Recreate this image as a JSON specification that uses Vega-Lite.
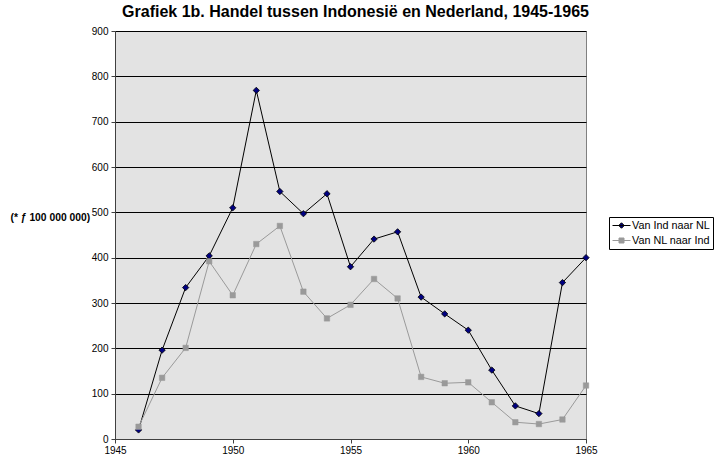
{
  "$schema": "https://vega.github.io/schema/vega-lite/v6.json",
  "autosize": "none",
  "width": 471,
  "height": 408,
  "padding": {"left": 115, "top": 31, "right": 129, "bottom": 19},
  "background": "white",
  "config": {
    "font": "Liberation Sans",
    "view": {"fill": "#e3e3e3", "stroke": "#808080", "strokeWidth": 1}
  },
  "title": {
    "text": "Grafiek 1b. Handel tussen Indonesië en Nederland, 1945-1965",
    "fontSize": 16,
    "fontWeight": "bold",
    "font": "Liberation Sans",
    "color": "black",
    "anchor": "middle",
    "dx": 5,
    "offset": 6
  },
  "data": {
    "values": [
      {"jaar": 1946, "serie": "Van Ind naar NL", "waarde": 20},
      {"jaar": 1947, "serie": "Van Ind naar NL", "waarde": 196},
      {"jaar": 1948, "serie": "Van Ind naar NL", "waarde": 334},
      {"jaar": 1949, "serie": "Van Ind naar NL", "waarde": 404},
      {"jaar": 1950, "serie": "Van Ind naar NL", "waarde": 510},
      {"jaar": 1951, "serie": "Van Ind naar NL", "waarde": 769},
      {"jaar": 1952, "serie": "Van Ind naar NL", "waarde": 546},
      {"jaar": 1953, "serie": "Van Ind naar NL", "waarde": 497},
      {"jaar": 1954, "serie": "Van Ind naar NL", "waarde": 541},
      {"jaar": 1955, "serie": "Van Ind naar NL", "waarde": 380},
      {"jaar": 1956, "serie": "Van Ind naar NL", "waarde": 441},
      {"jaar": 1957, "serie": "Van Ind naar NL", "waarde": 457},
      {"jaar": 1958, "serie": "Van Ind naar NL", "waarde": 313},
      {"jaar": 1959, "serie": "Van Ind naar NL", "waarde": 276},
      {"jaar": 1960, "serie": "Van Ind naar NL", "waarde": 240},
      {"jaar": 1961, "serie": "Van Ind naar NL", "waarde": 152},
      {"jaar": 1962, "serie": "Van Ind naar NL", "waarde": 73},
      {"jaar": 1963, "serie": "Van Ind naar NL", "waarde": 56},
      {"jaar": 1964, "serie": "Van Ind naar NL", "waarde": 345},
      {"jaar": 1965, "serie": "Van Ind naar NL", "waarde": 400},
      {"jaar": 1946, "serie": "Van NL naar Ind", "waarde": 27},
      {"jaar": 1947, "serie": "Van NL naar Ind", "waarde": 135},
      {"jaar": 1948, "serie": "Van NL naar Ind", "waarde": 201},
      {"jaar": 1949, "serie": "Van NL naar Ind", "waarde": 392},
      {"jaar": 1950, "serie": "Van NL naar Ind", "waarde": 317},
      {"jaar": 1951, "serie": "Van NL naar Ind", "waarde": 430},
      {"jaar": 1952, "serie": "Van NL naar Ind", "waarde": 470},
      {"jaar": 1953, "serie": "Van NL naar Ind", "waarde": 325},
      {"jaar": 1954, "serie": "Van NL naar Ind", "waarde": 266},
      {"jaar": 1955, "serie": "Van NL naar Ind", "waarde": 296},
      {"jaar": 1956, "serie": "Van NL naar Ind", "waarde": 353},
      {"jaar": 1957, "serie": "Van NL naar Ind", "waarde": 310},
      {"jaar": 1958, "serie": "Van NL naar Ind", "waarde": 137},
      {"jaar": 1959, "serie": "Van NL naar Ind", "waarde": 123},
      {"jaar": 1960, "serie": "Van NL naar Ind", "waarde": 125},
      {"jaar": 1961, "serie": "Van NL naar Ind", "waarde": 81},
      {"jaar": 1962, "serie": "Van NL naar Ind", "waarde": 37},
      {"jaar": 1963, "serie": "Van NL naar Ind", "waarde": 33},
      {"jaar": 1964, "serie": "Van NL naar Ind", "waarde": 43},
      {"jaar": 1965, "serie": "Van NL naar Ind", "waarde": 118}
    ]
  },
  "encoding": {
    "x": {
      "field": "jaar",
      "type": "quantitative",
      "scale": {"domain": [1945, 1965], "nice": false, "zero": false},
      "axis": {
        "title": null,
        "values": [1945, 1950, 1955, 1960, 1965],
        "format": "d",
        "grid": false,
        "domainColor": "#404040",
        "tickColor": "#404040",
        "tickSize": 4,
        "labelFontSize": 10,
        "labelColor": "black",
        "labelPadding": 2,
        "labelFlush": false
      }
    },
    "y": {
      "field": "waarde",
      "type": "quantitative",
      "scale": {"domain": [0, 900], "nice": false},
      "axis": {
        "title": "(* ƒ 100 000 000)",
        "titleAngle": 0,
        "titleX": -105,
        "titleY": 186,
        "titleAlign": "left",
        "titleBaseline": "middle",
        "titleFontSize": 10.3,
        "titleFontWeight": "bold",
        "titleColor": "black",
        "values": [0, 100, 200, 300, 400, 500, 600, 700, 800, 900],
        "grid": true,
        "gridColor": "black",
        "gridWidth": 1,
        "gridOpacity": 1,
        "domainColor": "#404040",
        "tickColor": "#404040",
        "tickSize": 4,
        "labelFontSize": 10,
        "labelColor": "black",
        "labelPadding": 3
      }
    }
  },
  "layer": [
    {
      "mark": {"type": "line", "strokeWidth": 1},
      "encoding": {
        "stroke": {
          "field": "serie",
          "type": "nominal",
          "scale": {"domain": ["Van Ind naar NL", "Van NL naar Ind"], "range": ["black", "#9a9a9a"]},
          "legend": {
            "title": null,
            "orient": "none",
            "legendX": 494,
            "legendY": 186,
            "symbolType": "M-1.8,0H1.8M0,-0.55L0.55,0L0,0.55L-0.55,0Z",
            "symbolSize": 100,
            "symbolStrokeWidth": 1,
            "symbolOffset": 4,
            "labelFontSize": 10.8,
            "labelColor": "black",
            "labelOffset": 5,
            "rowPadding": 3,
            "padding": 3,
            "strokeColor": "black",
            "fillColor": "white",
            "encode": {
              "symbols": {
                "update": {
                  "shape": {"signal": "datum.value === 'Van Ind naar NL' ? 'M-1.8,0H1.8M0,-0.55L0.55,0L0,0.55L-0.55,0Z' : 'M-1.8,0H1.8M-0.5,-0.5H0.5V0.5H-0.5Z'"},
                  "fill": {"signal": "datum.value === 'Van Ind naar NL' ? '#000080' : '#9a9a9a'"}
                }
              }
            }
          }
        }
      }
    },
    {
      "transform": [{"filter": "datum.serie === 'Van Ind naar NL'"}],
      "mark": {"type": "point", "shape": "diamond", "filled": true, "opacity": 1, "fill": "#000080", "stroke": "black", "strokeWidth": 0.8, "size": 40}
    },
    {
      "transform": [{"filter": "datum.serie === 'Van NL naar Ind'"}],
      "mark": {"type": "point", "shape": "square", "filled": true, "opacity": 1, "fill": "#9a9a9a", "stroke": "#9a9a9a", "strokeWidth": 0.5, "size": 30}
    }
  ]
}
